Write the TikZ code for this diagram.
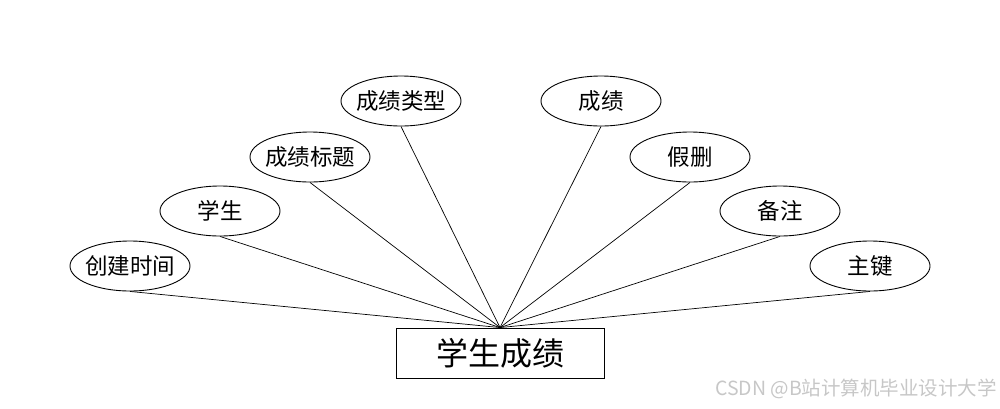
\documentclass[tikz,border=0pt]{standalone}
\usepackage{fontspec}
\setmainfont{Noto Sans CJK SC}
\usetikzlibrary{shapes.geometric}
\newcommand{\zw}[1]{\makebox[0pt][c]{#1}}
\begin{document}
\begin{tikzpicture}[x=1pt,y=-1pt,
  attr/.style={draw=black,line width=0.9pt,ellipse,minimum width=120pt,minimum height=50pt,inner sep=0pt,font=\fontsize{22.5}{22.5}\selectfont},
  ent/.style={draw=black,line width=0.9pt,rectangle,minimum width=208pt,minimum height=50pt,inner sep=0pt,font=\fontsize{32}{32}\selectfont},
  link/.style={line width=0.7pt}]
\useasboundingbox (0,0) rectangle (1000,408);
\node[ent] (e) at (500,353) {学生成绩};
\node[attr] (a1) at (130,266) {\zw{创建时间}};
\node[attr] (a2) at (220,211) {\zw{学生}};
\node[attr] (a3) at (310,157) {\zw{成绩标题}};
\node[attr] (a4) at (401,101) {\zw{成绩类型}};
\node[attr] (a5) at (601,101) {\zw{成绩}};
\node[attr] (a6) at (690,157) {\zw{假删}};
\node[attr] (a7) at (780,211) {\zw{备注}};
\node[attr] (a8) at (870,266) {\zw{主键}};
\foreach \i in {1,...,8} \draw[link] (a\i.south) -- (e.north);
\node[anchor=east,text=black!22,font=\fontsize{19.5}{19.5}\selectfont,inner sep=0pt] (wm) at (997,389) {CSDN @B站计算机毕业设计大学};
\end{tikzpicture}
\end{document}
